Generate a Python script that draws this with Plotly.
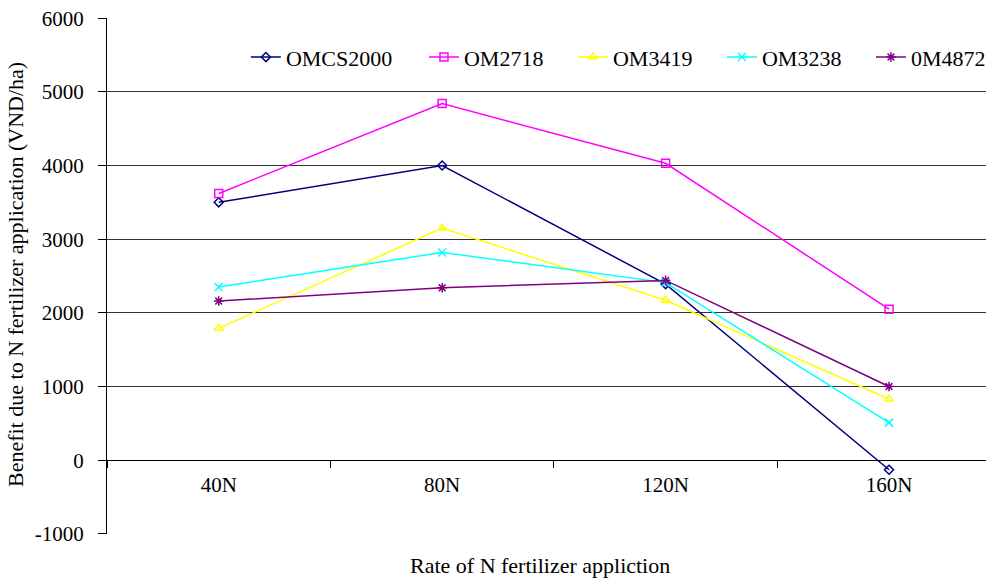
import plotly.graph_objects as go

# N fertilizer rates (categories on the x axis)
rates = ["40N", "80N", "120N", "160N"]

# Benefit due to N fertilizer application (VND/ha) per variety
omcs2000 = [3500, 4000, 2390, -130]
om2718 = [3620, 4840, 4030, 2050]
om3419 = [1790, 3150, 2170, 830]
om3238 = [2350, 2820, 2410, 510]
om4872 = [2160, 2340, 2440, 1000]

y_ticks = [-1000, 0, 1000, 2000, 3000, 4000, 5000, 6000]
y_tick_labels = [str(v) for v in y_ticks]  # plain hyphen for negatives

# name, values, colour, marker symbol, marker size, legend box
series = [
    ("OMCS2000", omcs2000, "#000080", "diamond-open", 7, "legend"),
    ("OM2718", om2718, "#FF00FF", "square-open", 8, "legend2"),
    ("OM3419", om3419, "#FFFF00", "triangle-up-open", 8, "legend2"),
    ("OM3238", om3238, "#00FFFF", "x-thin-open", 8, "legend2"),
    ("0M4872", om4872, "#800080", "asterisk-open", 8, "legend2"),
]

fig = go.Figure()
for name, vals, color, symbol, size, leg in series:
    fig.add_trace(go.Scatter(
        x=rates, y=vals, name=name, mode="lines+markers", legend=leg,
        line=dict(color=color, width=1.5),
        marker=dict(symbol=symbol, size=size, color=color,
                    line=dict(color=color, width=1.5)),
    ))

serif = "Liberation Serif"
zero_pos = (0 - y_ticks[0]) / (y_ticks[-1] - y_ticks[0])

legend_style = dict(
    orientation="h", y=0.924, xanchor="left", yanchor="middle",
    font=dict(family=serif, size=22, color="black"),
    bgcolor="rgba(0,0,0,0)", itemwidth=30, tracegroupgap=0,
)

fig.update_layout(
    width=986, height=579,
    margin=dict(l=107, r=0, t=18, b=45, autoexpand=False),
    paper_bgcolor="white", plot_bgcolor="white",
    font=dict(family=serif, size=21, color="black"),
    showlegend=True,
    legend=dict(x=0.158, **legend_style),
    legend2=dict(x=0.3606, entrywidth=104, entrywidthmode="pixels",
                 **legend_style),
    xaxis=dict(
        type="category", range=[-0.5, 3.434],
        anchor="free", position=zero_pos,
        showline=True, linecolor="black", linewidth=1,
        ticks="outside", tickson="boundaries", ticklen=7, tickcolor="black",
        showgrid=False, zeroline=False,
        ticklabelstandoff=6,
        tickfont=dict(family=serif, size=21),
    ),
    yaxis=dict(
        range=[y_ticks[0] - 2, y_ticks[-1] + 2],
        tickvals=y_ticks, ticktext=y_tick_labels,
        showline=True, linecolor="black", linewidth=1,
        ticks="outside", ticklen=8, tickcolor="black",
        showgrid=True, gridcolor="#333333", gridwidth=1,
        zeroline=False, ticklabelstandoff=10,
        tickfont=dict(family=serif, size=21),
    ),
    annotations=[
        dict(text="Rate of N fertilizer appliction", xref="paper", yref="paper",
             x=0.4926, y=-0.062, xanchor="center", yanchor="middle",
             showarrow=False, font=dict(family=serif, size=22, color="black")),
        dict(text="Benefit due to N fertilizer application (VND/ha)",
             xref="paper", yref="paper", x=-0.1035, y=0.502, textangle=-90,
             xanchor="center", yanchor="middle", showarrow=False,
             font=dict(family=serif, size=22, color="black")),
    ],
)

fig.write_html("out.html")
